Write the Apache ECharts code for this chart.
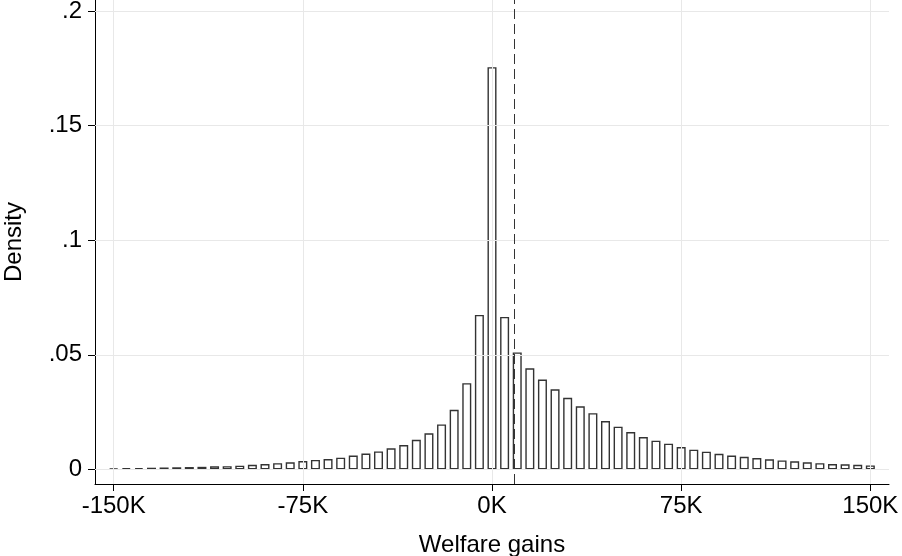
<!DOCTYPE html>
<html>
<head>
<meta charset="utf-8">
<script src="https://cdn.jsdelivr.net/npm/echarts@6/dist/echarts.min.js"></script>
<style>html,body{margin:0;padding:0;background:#fff}#c{width:902px;height:556px}</style>
</head>
<body>
<div id="c"></div>
<script>
// Bin centers (thousands) and densities
var binCenters = [-150,-145,-140,-135,-130,-125,-120,-115,-110,-105,-100,-95,-90,-85,-80,-75,-70,-65,-60,-55,-50,-45,-40,-35,-30,-25,-20,-15,-10,-5,0,5,10,15,20,25,30,35,40,45,50,55,60,65,70,75,80,85,90,95,100,105,110,115,120,125,130,135,140,145,150];
var densities = [0.0004,0.0005,0.0006,0.0007,0.0008,0.0009,0.0010,0.0011,0.0013,0.0014,0.0016,0.0020,0.0023,0.0027,0.0031,0.0036,0.0041,0.0045,0.0051,0.0060,0.0069,0.0078,0.0092,0.0106,0.0129,0.0157,0.0196,0.0260,0.0376,0.0674,0.1755,0.0665,0.0510,0.0441,0.0392,0.0349,0.0312,0.0275,0.0245,0.0211,0.0186,0.0163,0.0141,0.0125,0.0112,0.0097,0.0086,0.0077,0.0068,0.0060,0.0055,0.0049,0.0044,0.0039,0.0035,0.0031,0.0027,0.0023,0.0022,0.0020,0.0017];
var xTicks = [-150,-75,0,75,150];
var yTicks = [0,0.05,0.1,0.15,0.2];
var meanGain = 9;

function yLabel(v){ if (v===0) return '0'; return String(v).replace(/^0/,''); }

var chart = echarts.init(document.getElementById('c'), null, {renderer:'canvas'});
var font = '"Liberation Sans", Arial, Helvetica, sans-serif';
var gridLine = {color:'#e8e8e8', width:1, type:'solid'};

chart.setOption({
  animation:false,
  backgroundColor:'#fff',
  grid:{left:95, right:13, top:0, bottom:72, containLabel:false, outerBoundsMode:'none'},
  xAxis:{
    type:'value', min:-157.4, max:157.4,
    name:'Welfare gains', nameLocation:'middle', nameGap:49,
    nameTextStyle:{fontFamily:font, fontSize:24, color:'#000'},
    axisLine:{show:true, onZero:false, lineStyle:{color:'#000', width:1}},
    axisTick:{show:true, customValues:xTicks, length:7, lineStyle:{color:'#000'}},
    axisLabel:{customValues:xTicks, margin:10, fontFamily:font, fontSize:24, color:'#000',
      formatter:function(v){return v+'K';}},
    splitLine:{show:false}
  },
  yAxis:{
    type:'value', min:-0.0064, max:0.2048,
    name:'Density', nameLocation:'middle', nameGap:69, nameRotate:90,
    nameTextStyle:{fontFamily:font, fontSize:24, color:'#000'},
    axisLine:{show:true, onZero:false, lineStyle:{color:'#000', width:1}},
    axisTick:{show:true, customValues:yTicks, length:7, lineStyle:{color:'#000'}},
    axisLabel:{customValues:yTicks, margin:13, fontFamily:font, fontSize:24, color:'#000',
      formatter:yLabel},
    splitLine:{show:false}
  },
  series:[
    {
      type:'line', data:[], z:1, silent:true,
      markLine:{silent:true, symbol:['none','none'], label:{show:false}, animation:false,
        lineStyle:gridLine,
        data: xTicks.map(function(v){return {xAxis:v};}).concat(yTicks.map(function(v){return {yAxis:v};}))
      }
    },
    {
      type:'bar', z:2, barWidth:9,
      data: binCenters.map(function(x,i){return [x, densities[i]];}),
      itemStyle:{color:'#fff', borderColor:'#333', borderWidth:1.4}
    },
    {
      type:'line', data:[], z:3, silent:true,
      markLine:{silent:true, symbol:['none','none'], label:{show:false}, animation:false,
        lineStyle:{color:'#333', width:1, type:[10,5]},
        data:[{xAxis:meanGain}]
      }
    }
  ]
});
</script>
</body>
</html>
